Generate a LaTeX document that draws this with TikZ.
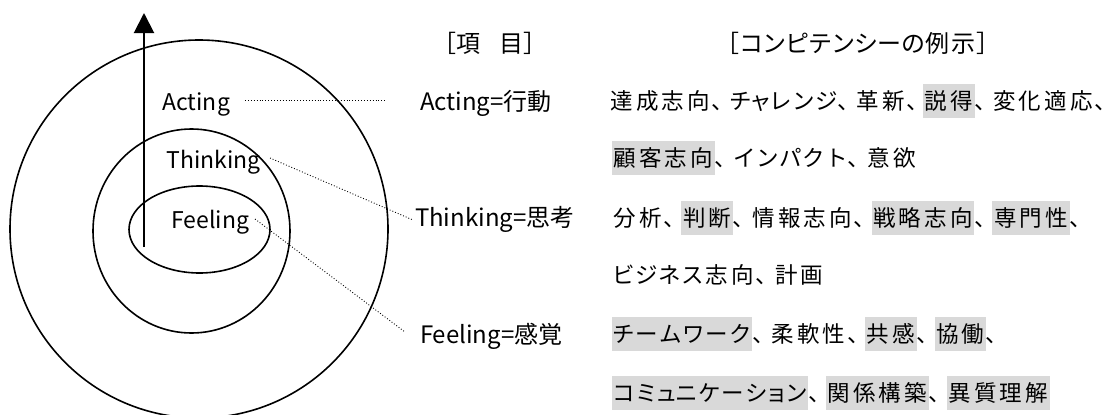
\documentclass[tikz,border=0pt]{standalone}
\usepackage{fontspec}
\setmainfont{Noto Sans CJK JP}
\usetikzlibrary{arrows.meta,shapes.geometric}
\definecolor{hlgray}{HTML}{D9D9D9}
% character cells imitating a proportional Japanese font
\def\jcmw{18pt}
\def\jtend{\relax}
\def\jt#1{\jtloop#1\jtend}
\def\jtloop#1{\ifx#1\jtend\else\jtchar#1\expandafter\jtloop\fi}
\def\jtchar#1{%
  \ifnum`#1="3001 \makebox[\jcmw][l]{#1}%
  \else\ifnum`#1="3000 \hspace*{16.5pt}%
  \else\ifnum`#1="FF3B \makebox[10pt][r]{#1}%
  \else\ifnum`#1="FF3D \makebox[10pt][l]{#1}%
  \else\ifnum`#1="30FC \makebox[24pt][c]{#1}%
  \else\ifnum`#1="30E3 \makebox[17pt][c]{#1}%
  \else\ifnum`#1="30E5 \makebox[17pt][c]{#1}%
  \else\ifnum`#1="30E7 \makebox[17pt][c]{#1}%
  \else\ifnum`#1>"303F \ifnum`#1<"3100 \makebox[23pt][c]{#1}\else\makebox[25.7pt][c]{#1}\fi
  \else\makebox[25.7pt][c]{#1}%
  \fi\fi\fi\fi\fi\fi\fi\fi\fi}
\newcommand\hlt[1]{{\setlength{\fboxsep}{0pt}\colorbox{hlgray}{\rule[-8.5pt]{0pt}{34pt}\jt{#1}}}}
\begin{document}
\begin{tikzpicture}[x=1pt,y=-1pt,
  every node/.style={inner sep=0pt,outer sep=0pt},
  txt/.style={font=\fontsize{24pt}{28pt}\selectfont,text height=21.1pt,text depth=2.9pt,anchor=west},
  lbl/.style={font=\fontsize{23pt}{28pt}\selectfont,text height=20.2pt,text depth=2.8pt,anchor=west},
  col/.style={font=\fontsize{22.5pt}{28pt}\selectfont,text height=19.8pt,text depth=2.7pt,anchor=west},
  ring/.style={draw,line width=1.6pt,ellipse,inner sep=0pt},
  dotln/.style={line width=0.9pt,dash pattern=on 0.9pt off 2pt},
  axis/.style={line width=2pt,-{Triangle[length=20pt,width=20pt]}}]
\useasboundingbox (0,0) rectangle (1117,415);
% rings
\node[ring,minimum width=378pt,minimum height=378pt] (outer) at (199,229) {};
\node[ring,minimum width=197pt,minimum height=204pt] (middle) at (191.5,231) {};
\node[ring,minimum width=141pt,minimum height=87pt] (inner) at (199.5,229.5) {};
% axis arrow
\coordinate (arrS) at (144,247);
\coordinate (arrE) at (144,13);
\draw[axis] (arrS) -- (arrE);
% ring labels
\node[lbl] (actL) at (162.5,101.5) {Acting};
\node[lbl] (thiL) at (166.5,159.4) {Thinking};
\node[lbl] (feeL) at (171.5,219.4) {Feeling};
% headers
\node[txt,anchor=center] (hdrA) at (490,43) {\jt{［項　目］}};
\node[txt,anchor=center] (hdrB) at (858,43) {\jt{［コンピテンシーの例示］}};
% items
\node[txt] (actI) at (420,101.5) {Acting=行動};
\node[txt] (thiI) at (415,217.5) {Thinking=思考};
\node[txt] (feeI) at (420,334) {Feeling=感覚};
% dotted connectors
\coordinate (aS) at (245,100); \coordinate (aE) at (387,100);
\coordinate (tS) at (270,158); \coordinate (tE) at (413,220);
\coordinate (fS) at (255,219); \coordinate (fE) at (405,332);
\draw[dotln] (aS) -- (aE);
\draw[dotln] (tS) -- (tE);
\draw[dotln] (fS) -- (fE);
% competency examples
\node[col] (c1) at (609,101) {\def\jcmw{17pt}\jt{達成志向、チャレンジ、革新、}\hlt{説得}\jt{、変化適応、}};
\node[col] (c2) at (612,158) {\hlt{顧客志向}\jt{、インパクト、意欲}};
\node[col] (c3) at (612,217.5) {\jt{分析、}\hlt{判断}\jt{、情報志向、}\hlt{戦略志向}\jt{、}\hlt{専門性}\jt{、}};
\node[col] (c4) at (612,275) {\jt{ビジネス志向、計画}};
\node[col] (c5) at (612,334) {\hlt{チームワーク}\jt{、柔軟性、}\hlt{共感}\jt{、}\hlt{協働}\jt{、}};
\node[col] (c6) at (612,392.5) {\hlt{コミュニケーション}\jt{、}\hlt{関係構築}\jt{、}\hlt{異質理解}};
\end{tikzpicture}
\end{document}
